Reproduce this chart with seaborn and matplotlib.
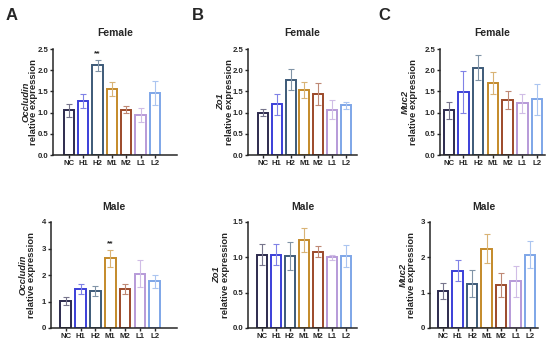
import numpy as np
import pandas as pd
import matplotlib
matplotlib.use("Agg")
import matplotlib.pyplot as plt
import seaborn as sns

# %% data
groups = ["NC", "H1", "H2", "M1", "M2", "L1", "L2"]
colors = ["#2d2b4e", "#3b3fd8", "#3d5a78", "#c48a2a", "#9c4a2a", "#b79ad8", "#7ea6e8"]

female_occludin = [1.05, 1.27, 2.12, 1.55, 1.07, 0.95, 1.47]
female_occludin_err = [0.15, 0.17, 0.13, 0.17, 0.09, 0.16, 0.28]
female_zo1 = [1.00, 1.20, 1.78, 1.53, 1.43, 1.07, 1.17]
female_zo1_err = [0.08, 0.25, 0.25, 0.18, 0.26, 0.22, 0.09]
female_muc2 = [1.05, 1.49, 2.06, 1.70, 1.29, 1.22, 1.31]
female_muc2_err = [0.19, 0.50, 0.30, 0.25, 0.21, 0.22, 0.37]

male_occludin = [1.02, 1.48, 1.40, 2.63, 1.48, 2.05, 1.76]
male_occludin_err = [0.16, 0.19, 0.20, 0.33, 0.18, 0.50, 0.25]
male_zo1 = [1.04, 1.04, 1.02, 1.24, 1.08, 1.00, 1.02]
male_zo1_err = [0.15, 0.15, 0.20, 0.17, 0.08, 0.04, 0.15]
male_muc2 = [1.05, 1.62, 1.25, 2.25, 1.23, 1.32, 2.08]
male_muc2_err = [0.22, 0.30, 0.38, 0.40, 0.34, 0.43, 0.37]

# %% style
sns.set_style("ticks")
plt.rcParams["font.family"] = ["Liberation Sans", "DejaVu Sans"]
plt.rcParams["font.weight"] = "bold"

W, H = 550, 348


def lighten(c, amt=0.35):
    rgb = np.array(matplotlib.colors.to_rgb(c))
    return tuple(rgb + (1 - rgb) * amt)


def plot_panel(fig, rect, vals, errs, gene, title, ylim, yticks, xlim, star=None, ylab_px=(26, 34)):
    ax = fig.add_axes(rect)
    df = pd.DataFrame({"group": groups, "value": vals})
    sns.barplot(data=df, x="group", y="value", hue="group", palette=colors,
                fill=False, linewidth=1.4, errorbar=None, legend=False,
                width=0.72, ax=ax)
    for i, (v, e) in enumerate(zip(vals, errs)):
        ax.errorbar(i, v, yerr=e, fmt="none", ecolor=lighten(colors[i]),
                    elinewidth=0.8, capsize=2.2, capthick=0.8, zorder=3)
    if star is not None:
        ax.text(star, vals[star] + errs[star] + (ylim[1] - ylim[0]) * 0.02, "**",
                ha="center", va="bottom", fontsize=6, fontweight="bold")
    ax.set_ylim(*ylim)
    ax.set_yticks(yticks)
    if any(t % 1 for t in yticks):
        ax.set_yticklabels([f"{t:.1f}" for t in yticks])
    ax.set_xlim(*xlim)
    ax.set_xlabel("")
    ax.set_ylabel("")
    ax.set_title(title, fontsize=7.5, fontweight="bold", pad=9)
    sns.despine(ax=ax)
    for s in ["left", "bottom"]:
        ax.spines[s].set_linewidth(1.1)
    ax.tick_params(axis="both", labelsize=5.6, width=1, length=2.5, pad=1)
    for lab in ax.get_xticklabels() + ax.get_yticklabels():
        lab.set_fontweight("bold")
    # two-line y label: italic gene name + "relative expression"
    yc = rect[1] + rect[3] / 2
    fig.text(ylab_px[0] / W, yc, gene, rotation=90, ha="center", va="center",
             fontsize=6.8, fontweight="bold", style="italic")
    fig.text(ylab_px[1] / W, yc, "relative expression", rotation=90, ha="center",
             va="center", fontsize=6.8, fontweight="bold")
    return ax


fig = plt.figure(figsize=(5.5, 3.48), dpi=100)


def rect(x0, x1, ytop, ybot):
    return [x0 / W, 1 - ybot / H, (x1 - x0) / W, (ybot - ytop) / H]


t = [0, 0.5, 1.0, 1.5, 2.0, 2.5]
plot_panel(fig, rect(53, 177, 49, 155), female_occludin, female_occludin_err, "Occludin", "Female",
           (0, 2.5), t, (-1.12, 7.55), star=2, ylab_px=(26, 34))
plot_panel(fig, rect(248, 357, 49, 155), female_zo1, female_zo1_err, "Zo1", "Female",
           (0, 2.5), t, (-1.08, 6.8), ylab_px=(221, 229))
plot_panel(fig, rect(440, 545, 49, 155), female_muc2, female_muc2_err, "Muc2", "Female",
           (0, 2.5), t, (-0.6, 6.55), ylab_px=(405, 414))

plot_panel(fig, rect(51, 177, 222, 328), male_occludin, male_occludin_err, "Occludin", "Male",
           (0, 4), [0, 1, 2, 3, 4], (-1.0, 7.5), star=3, ylab_px=(23, 32))
plot_panel(fig, rect(248, 357, 222, 328), male_zo1, male_zo1_err, "Zo1", "Male",
           (0, 1.5), [0, 0.5, 1.0, 1.5], (-1.0, 6.8), ylab_px=(217, 226))
plot_panel(fig, rect(430, 538, 222, 328), male_muc2, male_muc2_err, "Muc2", "Male",
           (0, 3), [0, 1, 2, 3], (-0.9, 6.55), ylab_px=(403, 412))

for x, letter in [(6, "A"), (192, "B"), (378, "C")]:
    fig.text(x / W, 1 - 16 / H, letter, fontsize=12, fontweight="bold", va="center", ha="left")

fig.savefig("out.png", dpi=100, facecolor="white")
